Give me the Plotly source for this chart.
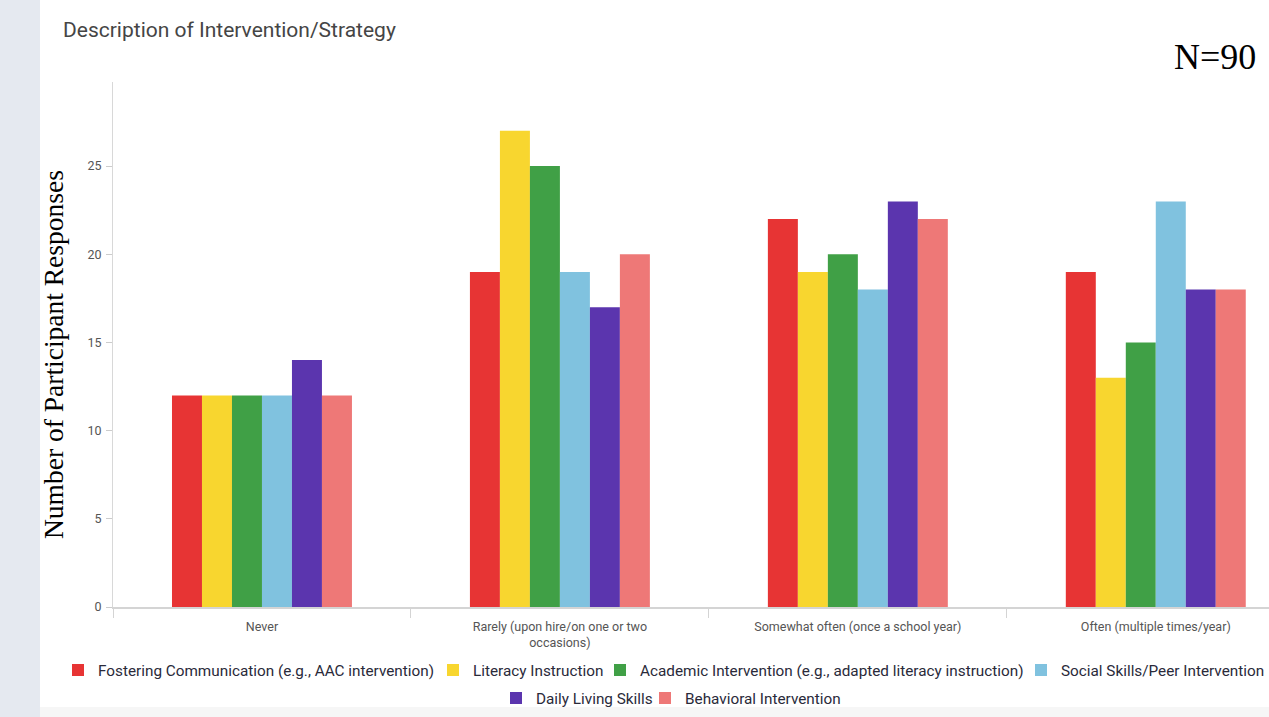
import plotly.graph_objects as go

categories = ["Never", "Rarely (upon hire/on one or two<br>occasions)",
              "Somewhat often (once a school year)", "Often (multiple times/year)"]
series_names = ["Fostering Communication (e.g., AAC intervention)", "Literacy Instruction",
                "Academic Intervention (e.g., adapted literacy instruction)",
                "Social Skills/Peer Intervention", "Daily Living Skills", "Behavioral Intervention"]
fostering = [12, 19, 22, 19]
literacy = [12, 27, 19, 13]
academic = [12, 25, 20, 15]
social = [12, 19, 18, 23]
daily = [14, 17, 23, 18]
behavioral = [12, 20, 22, 18]
series_values = [fostering, literacy, academic, social, daily, behavioral]
colors = ["#e73434", "#f8d62f", "#40a046", "#80c2df", "#5b35ae", "#ee7877"]
legend_ids = ["legend", "legend2", "legend3", "legend4", "legend5", "legend6"]
# legend entry positions (square left x, row centre y) in pixels
legend_sq_x = [72, 447, 614, 1035, 510, 659]
legend_row_y = [670, 670, 670, 670, 698, 698]
y_ticks = [0, 5, 10, 15, 20, 25]

W, H = 1269, 717
L, R, T, B = 113, 0, 82, 110
PW, PH = W - L - R, H - T - B

def px(x):
    return (x - L) / PW

def py(y):
    return (H - B - y) / PH

fig = go.Figure()
for name, vals, col, lg in zip(series_names, series_values, colors, legend_ids):
    fig.add_trace(go.Bar(name=name, x=categories, y=vals, legend=lg,
                         marker=dict(color=col, line=dict(width=0))))

legend_font = dict(family="Roboto", size=15.3, color="#2a2a3a")
legends = {}
for lg, sx, ry in zip(legend_ids, legend_sq_x, legend_row_y):
    legends[lg] = dict(orientation="h", xref="container", yref="container",
                       x=(sx - 14) / W, xanchor="left", y=(H - ry) / H, yanchor="middle",
                       font=legend_font, itemwidth=30, bgcolor="rgba(0,0,0,0)")

fig.update_layout(
    width=W, height=H,
    margin=dict(l=L, r=R, t=T, b=B, autoexpand=False),
    paper_bgcolor="white", plot_bgcolor="white",
    barmode="group", bargap=0.396, bargroupgap=0,
    showlegend=True,
    xaxis=dict(range=[-0.5, 3.38], showline=True, linecolor="#d4d4d4", linewidth=2,
               ticks="outside", tickson="boundaries", ticklen=9, tickcolor="#d4d4d4",
               ticklabelstandoff=7,
               tickfont=dict(family="Roboto", size=12.5, color="#555555"), showgrid=False),
    yaxis=dict(range=[0, 29.77], tickvals=y_ticks, showline=True, linecolor="#d8d8d8", linewidth=1,
               ticks="outside", ticklen=6, tickcolor="#cccccc", showgrid=False, zeroline=False,
               ticklabelstandoff=2,
               tickfont=dict(family="Roboto", size=12.5, color="#555555")),
    shapes=[
        dict(type="rect", xref="paper", yref="paper", x0=px(0), x1=px(40), y0=py(H), y1=py(0),
             fillcolor="#e5e9f0", line=dict(width=0), layer="below"),
        dict(type="rect", xref="paper", yref="paper", x0=px(40), x1=px(W), y0=py(H), y1=py(707),
             fillcolor="#f6f6f6", line=dict(width=0), layer="below"),
    ],
    annotations=[
        dict(text="Description of Intervention/Strategy", xref="paper", yref="paper",
             x=px(61), y=py(30), xanchor="left", yanchor="middle", showarrow=False,
             font=dict(family="Roboto", size=21, color="#454545")),
        dict(text="Number of Participant Responses", xref="paper", yref="paper",
             x=px(53), y=py(355), xanchor="center", yanchor="middle", showarrow=False, textangle=-90,
             font=dict(family="Liberation Serif", size=27.5, color="black")),
        dict(text="N=90", xref="paper", yref="paper",
             x=px(1215), y=py(57), xanchor="center", yanchor="middle", showarrow=False,
             font=dict(family="Liberation Serif", size=36, color="black")),
    ],
)
fig.update_layout(**legends)

fig.write_html("out.html")
